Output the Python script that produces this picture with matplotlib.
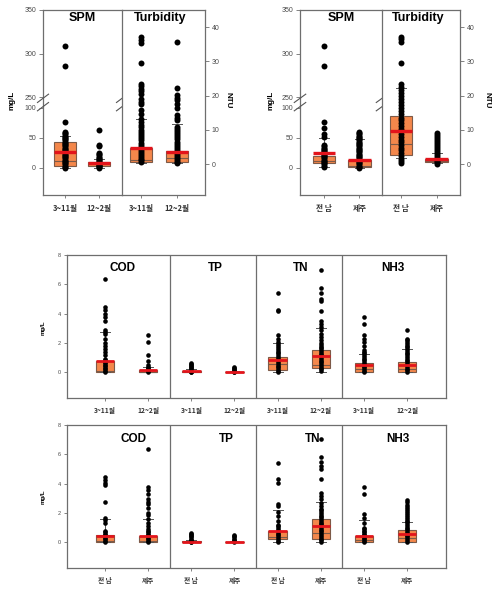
import matplotlib
matplotlib.use('Agg')
import matplotlib.pyplot as plt
import numpy as np

plt.rcParams['font.family'] = ['Liberation Sans', 'Noto Sans CJK KR', 'DejaVu Sans']

# ---- data -------------------------------------------------------------
season_labels = ['3~11월', '12~2월']
region_labels = ['전 남', '제주']
mid_titles = ['COD', 'TP', 'TN', 'NH3']

# box summaries: q1, median, q3, whisker low, whisker high, mean
spm_season_box = [[3.3, 12, 43, 0, 53, 27], [3, 7, 10.5, 0, 15, 8]]
spm_season_pts = [
    [309, 286, 76, 60, 58, 56, 54, 52, 50, 48, 46, 44, 42, 40, 38, 36, 34, 32, 30,
     28, 26, 24, 22, 20, 18, 16, 14, 12, 10, 8, 6, 4, 2, 0],
    [63, 38, 37, 25, 23, 21, 19, 17, 15, 13, 11, 10, 8, 7, 5, 4, 3, 1, 0],
]
turb_season_box = [[0.7, 1.2, 4.8, 0.3, 13.3, 4.7], [0.7, 1.7, 3.8, 0.3, 11.7, 3.6]]
turb_season_pts = [
    [37.2, 36.3, 35.5, 29.5, 23.3, 22.7, 22.0, 21.4, 20.6, 18.9, 18.2, 17.5, 15.7,
     14.5, 13.3, 12.2, 11.5, 10.8, 10.1, 9.5, 8.9, 8.2, 7.6, 7.0, 6.3, 5.7, 5.1,
     4.5, 3.9, 3.3, 2.8, 2.2, 1.6, 1.1, 0.6],
    [35.7, 22.1, 20.3, 19.4, 18.7, 17.7, 16.3, 14.3, 13.6, 12.8, 10.9, 10.3, 9.7,
     9.1, 8.5, 7.9, 7.3, 6.6, 6.0, 5.4, 4.8, 4.2, 3.6, 3.0, 2.4, 1.8, 1.2, 0.6, 0.3],
]
spm_region_box = [[8, 12, 20, 2, 49.5, 25.5], [1, 3.3, 13.3, 0, 48, 13.3]]
spm_region_pts = [
    [309, 286, 76, 66, 57, 52, 38, 36, 34, 32, 30, 28, 26, 24, 22, 20, 18, 16, 14,
     12, 10, 8, 6, 4, 2],
    [60, 58, 56, 54, 52, 50, 48, 46, 44, 42, 40, 38, 36, 34, 32, 30, 28, 26, 24, 22,
     20, 18, 16, 14, 12, 10, 8, 6, 4, 2, 0],
]
turb_region_box = [[2.8, 6.0, 14.0, 1.9, 22.1, 9.6], [0.6, 1.0, 1.5, 0.2, 3.3, 1.4]]
turb_region_pts = [
    [37.2, 36.4, 35.6, 29.6, 23.3, 22.5, 21.7, 20.8, 19.9, 19.0, 18.1, 17.2, 16.3,
     15.4, 14.5, 13.6, 12.8, 12.0, 11.2, 10.4, 9.6, 8.8, 8.0, 7.2, 6.4, 5.6, 4.8,
     4.0, 3.2, 2.4, 1.6, 0.8, 0.4],
    [9.0, 8.5, 8.0, 7.4, 6.8, 6.2, 5.6, 5.0, 4.4, 3.8, 3.2, 2.6, 2.0, 1.5, 1.0, 0.5, 0.1],
]

cod_season_box = [[0, 0.1, 0.75, 0, 2.75, 0.75], [0, 0.05, 0.18, 0, 0.36, 0.18]]
cod_season_pts = [
    [6.33, 4.46, 4.23, 3.96, 3.78, 3.48, 2.91, 2.75, 2.59, 2.3, 2.0, 1.77, 1.61, 1.39,
     1.16, 0.93, 0.82, 0.72, 0.62, 0.52, 0.42, 0.32, 0.22, 0.12, 0.04],
    [2.57, 2.07, 1.16, 0.77, 0.48, 0.38, 0.3, 0.22, 0.15, 0.08, 0.02],
]
tp_season_box = [[0.02, 0.05, 0.1, 0, 0.2, 0.08], [0.01, 0.03, 0.05, 0, 0.1, 0.03]]
tp_season_pts = [
    [0.62, 0.55, 0.48, 0.42, 0.35, 0.28, 0.2, 0.12, 0.05, 0.0],
    [0.36, 0.3, 0.24, 0.17, 0.1, 0.04, 0.0],
]
tn_season_box = [[0.14, 0.59, 1.05, 0, 2.0, 0.82], [0.3, 0.48, 1.55, 0, 3.05, 1.14]]
tn_season_pts = [
    [5.41, 4.28, 4.16, 2.57, 2.3, 2.07, 1.9, 1.78, 1.66, 1.54, 1.42, 1.3, 1.18, 1.06,
     0.94, 0.82, 0.7, 0.58, 0.46, 0.34, 0.22, 0.1, 0.0],
    [6.96, 5.78, 5.41, 5.03, 4.85, 4.16, 3.5, 3.28, 3.09, 2.87, 2.64, 2.41, 2.18, 2.0,
     1.88, 1.76, 1.64, 1.52, 1.4, 1.28, 1.16, 1.04, 0.92, 0.8, 0.68, 0.56, 0.44,
     0.32, 0.2, 0.08],
]
nh3_season_box = [[0, 0.25, 0.64, 0, 1.27, 0.48], [0, 0.25, 0.7, 0, 1.57, 0.48]]
nh3_season_pts = [
    [3.78, 3.32, 2.57, 2.3, 2.07, 1.77, 1.55, 1.42, 1.3, 1.18, 1.06, 0.94, 0.82, 0.7,
     0.58, 0.46, 0.34, 0.22, 0.1, 0.0],
    [2.87, 2.3, 2.18, 2.06, 1.94, 1.82, 1.7, 1.58, 1.46, 1.34, 1.22, 1.1, 0.98, 0.86,
     0.74, 0.62, 0.5, 0.38, 0.26, 0.14, 0.03],
]

cod_region_box = [[0, 0.1, 0.48, 0, 1.62, 0.45], [0, 0.12, 0.43, 0, 1.62, 0.42]]
cod_region_pts = [
    [4.48, 4.25, 4.07, 3.89, 2.78, 1.68, 1.52, 1.3, 0.8, 0.7, 0.6, 0.5, 0.4, 0.3, 0.2,
     0.1, 0.0],
    [6.35, 3.8, 3.57, 3.28, 2.94, 2.78, 2.6, 2.37, 2.03, 1.86, 1.62, 1.3, 1.11, 0.9,
     0.8, 0.7, 0.6, 0.5, 0.4, 0.3, 0.2, 0.1, 0.0],
]
tp_region_box = [[0.01, 0.03, 0.06, 0, 0.15, 0.05], [0, 0.02, 0.04, 0, 0.1, 0.03]]
tp_region_pts = [
    [0.62, 0.55, 0.47, 0.4, 0.33, 0.26, 0.19, 0.12, 0.05, 0.0],
    [0.5, 0.42, 0.33, 0.25, 0.17, 0.09, 0.02],
]
tn_region_box = [[0.2, 0.39, 0.77, 0, 2.18, 0.77], [0.2, 0.66, 1.57, 0.05, 2.78, 1.11]]
tn_region_pts = [
    [5.44, 4.3, 4.07, 2.64, 2.48, 2.1, 1.8, 1.45, 1.2, 1.08, 0.96, 0.84, 0.72, 0.6,
     0.48, 0.36, 0.24, 0.12, 0.0],
    [7.03, 5.83, 5.5, 5.21, 4.98, 4.3, 3.39, 3.16, 2.94, 2.71, 2.48, 2.3, 2.18, 2.06,
     1.94, 1.82, 1.7, 1.58, 1.46, 1.34, 1.22, 1.1, 0.98, 0.86, 0.74, 0.62, 0.5,
     0.38, 0.26, 0.14, 0.02],
]
nh3_region_box = [[0, 0.15, 0.43, 0, 1.52, 0.43], [0.02, 0.27, 0.82, 0, 1.4, 0.59]]
nh3_region_pts = [
    [3.8, 3.32, 1.96, 1.68, 1.34, 1.0, 0.9, 0.8, 0.7, 0.6, 0.5, 0.4, 0.3, 0.2, 0.1, 0.0],
    [2.87, 2.72, 2.57, 2.42, 2.27, 2.12, 1.97, 1.84, 1.72, 1.6, 1.48, 1.36, 1.24, 1.12,
     1.0, 0.88, 0.76, 0.64, 0.52, 0.4, 0.28, 0.16, 0.04],
]

# ---- style --------------------------------------------------------------
BOX_FILL = '#F4874B'
BOX_EDGE = '#7d5a48'
MEAN_RED = '#E3141B'
SPINE = '#6e6e6e'
TICK_TXT = '#4a4a4a'
KR = ['Noto Sans CJK KR', 'DejaVu Sans']

W, H = 500, 590
fig = plt.figure(figsize=(W / 100, H / 100), dpi=100)
fig.patch.set_facecolor('white')


def ax_at(x0, y0, x1, y1):
    return fig.add_axes([x0 / W, 1 - y1 / H, (x1 - x0) / W, (y1 - y0) / H])


def to_stats(boxes):
    return [dict(q1=b[0], med=b[1], q3=b[2], whislo=b[3], whishi=b[4], mean=b[5],
                 fliers=[]) for b in boxes]


def draw_boxes(ax, boxes, pts, pos, width, capw, ms, meanlw):
    ax.bxp(to_stats(boxes), positions=pos, widths=width, capwidths=capw,
           patch_artist=True, showmeans=True, meanline=True, showfliers=False,
           manage_ticks=False,
           boxprops=dict(facecolor=BOX_FILL, edgecolor=BOX_EDGE, linewidth=0.8),
           medianprops=dict(color=BOX_EDGE, linewidth=0.8),
           meanprops=dict(color=MEAN_RED, linewidth=meanlw, linestyle='-', zorder=5),
           whiskerprops=dict(color='#555555', linewidth=0.7),
           capprops=dict(color='#555555', linewidth=0.7))
    for p, vals in zip(pos, pts):
        ax.plot([p] * len(vals), vals, 'o', color='black', ms=ms, mec='black',
                mew=0, zorder=4)


def style_spines(ax):
    for s in ax.spines.values():
        s.set_color(SPINE)
        s.set_linewidth(0.9)


# broken mg/L scale: 0-100 and 250-350 shown, 100-250 squeezed
def fwd(y):
    y = np.asarray(y, dtype=float)
    return np.where(y <= 100, y * 0.6,
                    np.where(y <= 250, 60 + (y - 100) * 11 / 150, 71 + (y - 250) * 0.87))


def inv(p):
    p = np.asarray(p, dtype=float)
    return np.where(p <= 60, p / 0.6,
                    np.where(p <= 71, 100 + (p - 60) * 150 / 11, 250 + (p - 71) / 0.87))


def break_marks(ax, x):
    kw = dict(transform=ax.transAxes, color='#555555', lw=0.8, clip_on=False, zorder=6)
    for y in (0.455, 0.50):
        ax.plot([x - 0.07, x + 0.07], [y, y + 0.045], **kw)


def top_panel(xl, xm, xr, spm_box, spm_pts, turb_box, turb_pts, labels,
              spm_lim, turb_lim, mg_x, ntu_x):
    a1 = ax_at(xl, 10, xm, 195)
    a2 = ax_at(xm, 10, xr, 195)
    a1.set_yscale('function', functions=(fwd, inv))
    draw_boxes(a1, spm_box, spm_pts, [1, 2], 0.64, 0.27, 4.3, 2.4)
    draw_boxes(a2, turb_box, turb_pts, [1, 2], 0.63, 0.27, 4.3, 2.4)
    a1.set_ylim(-45, 350)
    a1.set_yticks([0, 50, 100, 250, 300, 350])
    a1.yaxis.set_minor_locator(plt.NullLocator())
    a1.set_xlim(*spm_lim)
    a2.set_ylim(-9, 45)
    a2.set_yticks([0, 10, 20, 30, 40])
    a2.set_xlim(*turb_lim)
    a2.yaxis.tick_right()
    a1.spines['right'].set_visible(False)
    for a in (a1, a2):
        style_spines(a)
        a.set_xticks([1, 2])
        a.set_xticklabels(labels, family=KR, fontweight='bold', fontsize=5.5,
                          color='#333333')
        a.tick_params(axis='x', length=2.5, width=0.6, color=SPINE, pad=4)
        a.tick_params(axis='y', length=3, width=0.6, color=SPINE, labelsize=5,
                      labelcolor=TICK_TXT, pad=2)
    a1.text(0.5, 0.955, 'SPM', transform=a1.transAxes, ha='center', va='center',
            fontsize=9, fontweight='bold')
    a2.text(0.46, 0.955, 'Turbidity', transform=a2.transAxes, ha='center',
            va='center', fontsize=9, fontweight='bold')
    break_marks(a1, 0.0)
    break_marks(a1, 1.0)
    fig.text(mg_x / W, 1 - 100 / H, 'mg/L', rotation=90, ha='center', va='center',
             fontsize=5.8, fontweight='bold')
    fig.text(ntu_x / W, 1 - 100 / H, 'NTU', rotation=270, ha='center', va='center',
             fontsize=5.8, fontweight='bold')


top_panel(43, 122, 205, spm_season_box, spm_season_pts, turb_season_box,
          turb_season_pts, season_labels, (0.35, 2.68), (0.47, 2.78), 12, 228)
top_panel(300, 382, 460, spm_region_box, spm_region_pts, turb_region_box,
          turb_region_pts, region_labels, (0.32, 2.64), (0.47, 2.65), 271, 487)


def lower_panel(y0, y1, boxes, pts, labels, title_x, title_y, mg_y):
    ax = ax_at(67, y0, 446, y1)
    pos = list(range(1, 9))
    allb = [b for grp in boxes for b in grp]
    allp = [p for grp in pts for p in grp]
    draw_boxes(ax, allb, allp, pos, 0.43, 0.23, 3.3, 2.0)
    ax.set_xlim(0.12, 8.9)
    ax.set_ylim(-1.75, 8)
    ax.set_yticks([0, 2, 4, 6, 8])
    for xv in (2.5, 4.5, 6.5):
        ax.axvline(xv, color=SPINE, lw=0.9)
    style_spines(ax)
    ax.set_xticks(pos)
    ax.set_xticklabels(labels * 4, family=KR, fontweight='bold', fontsize=4.8,
                       color='#333333')
    ax.tick_params(axis='x', length=2.5, width=0.6, color=SPINE, pad=4)
    ax.tick_params(axis='y', length=2.5, width=0.6, color=SPINE, labelsize=4,
                   labelcolor=TICK_TXT, pad=2)
    for t, tx in zip(mid_titles, title_x):
        ax.text(tx, title_y, t, ha='center', va='center', fontsize=8.5,
                fontweight='bold')
    fig.text(43 / W, 1 - mg_y / H, 'mg/L', rotation=90, ha='center', va='center',
             fontsize=4.4, fontweight='bold')


lower_panel(255, 398,
            [cod_season_box, tp_season_box, tn_season_box, nh3_season_box],
            [cod_season_pts, tp_season_pts, tn_season_pts, nh3_season_pts],
            season_labels, [1.40, 3.56, 5.53, 7.67], 7.1, 328)
lower_panel(425, 568,
            [cod_region_box, tp_region_box, tn_region_box, nh3_region_box],
            [cod_region_pts, tp_region_pts, tn_region_pts, nh3_region_pts],
            region_labels, [1.65, 3.81, 5.81, 7.79], 7.03, 497)

fig.savefig('out.png', dpi=100, facecolor='white')
